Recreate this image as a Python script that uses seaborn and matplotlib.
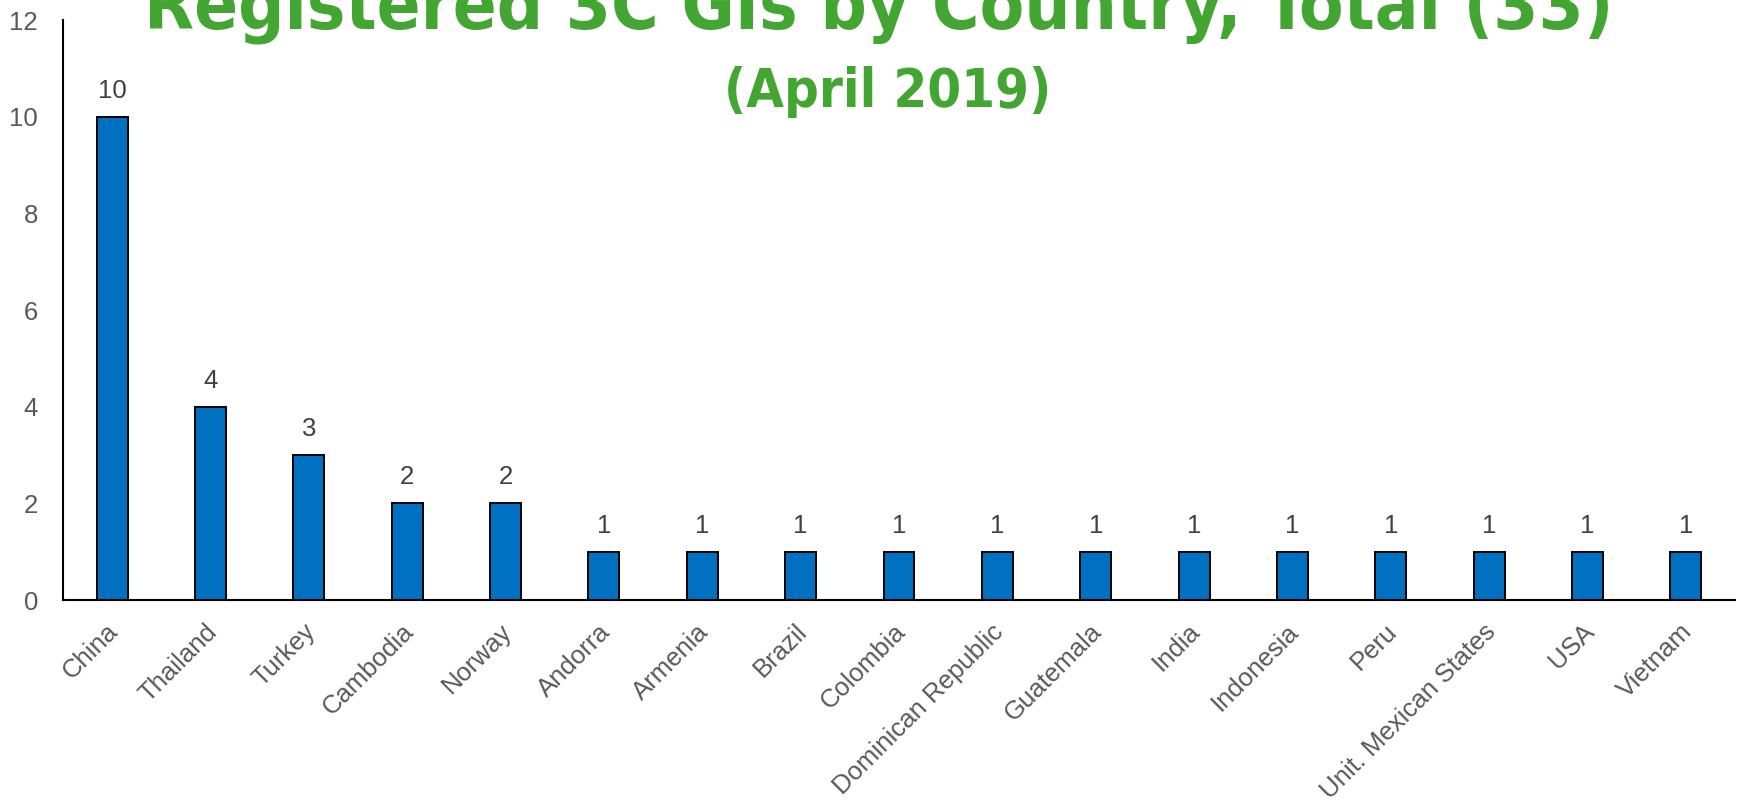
import matplotlib
matplotlib.use("Agg")
import matplotlib.pyplot as plt
import matplotlib.transforms as mtransforms
import seaborn as sns
import pandas as pd

# Registered 3C geographical indications per country
countries = ["China", "Thailand", "Turkey", "Cambodia", "Norway", "Andorra",
             "Armenia", "Brazil", "Colombia", "Dominican Republic", "Guatemala",
             "India", "Indonesia", "Peru", "Unit. Mexican States", "USA", "Vietnam"]
counts = [10, 4, 3, 2, 2, 1, 1, 1, 1, 1, 1, 1, 1, 1, 1, 1, 1]
y_ticks = [0, 2, 4, 6, 8, 10, 12]

title_main = "Registered 3C GIs by Country, Total (33)"
title_sub = "(April 2019)"

df = pd.DataFrame({"country": countries, "count": counts})

sns.set_style("white")
plt.rcParams["font.family"] = ["Liberation Sans", "DejaVu Sans"]

BAR_BLUE = "#0070C0"
TITLE_GREEN = "#44A632"
LABEL_SIZE = 18.5

fig = plt.figure(figsize=(17.38, 8.01), dpi=100)
ax = fig.add_axes([63 / 1738, 1 - 600 / 801, (1735 - 63) / 1738, (600 - 20) / 801])

sns.barplot(data=df, x="country", y="count", color=BAR_BLUE, saturation=1,
            edgecolor="black", linewidth=1.4, width=0.315, ax=ax)

ax.set_xlim(-0.5, len(countries) - 0.5)
ax.set_ylim(0, 12)
ax.set_yticks(y_ticks)
ax.set_xlabel("")
ax.set_ylabel("")

for side in ("top", "right"):
    ax.spines[side].set_visible(False)
for side in ("left", "bottom"):
    ax.spines[side].set_color("black")
    ax.spines[side].set_linewidth(1.5)

ax.tick_params(axis="y", length=0, pad=18, labelsize=LABEL_SIZE, labelcolor="#595959")
ax.tick_params(axis="x", length=0, pad=14, labelsize=LABEL_SIZE, labelcolor="#595959")
plt.setp(ax.get_xticklabels(), rotation=45, ha="right", rotation_mode="anchor")
offset = mtransforms.ScaledTranslation(-6 / 100, 0, fig.dpi_scale_trans)
for lbl in ax.get_xticklabels():
    lbl.set_transform(lbl.get_transform() + offset)

for cont in ax.containers:
    ax.bar_label(cont, labels=[str(v) for v in counts], padding=10,
                 fontsize=LABEL_SIZE, color="#404040")

fig.text(0.5058, 1 - 29 / 801, title_main, ha="center", va="baseline",
         fontsize=52, fontweight="bold", color=TITLE_GREEN,
         family="DejaVu Sans", fontstretch="condensed")
fig.text(0.511, 1 - 107 / 801, title_sub, ha="center", va="baseline",
         fontsize=39, fontweight="bold", color=TITLE_GREEN,
         family="DejaVu Sans", fontstretch="condensed")

fig.savefig("out.png", dpi=100)
